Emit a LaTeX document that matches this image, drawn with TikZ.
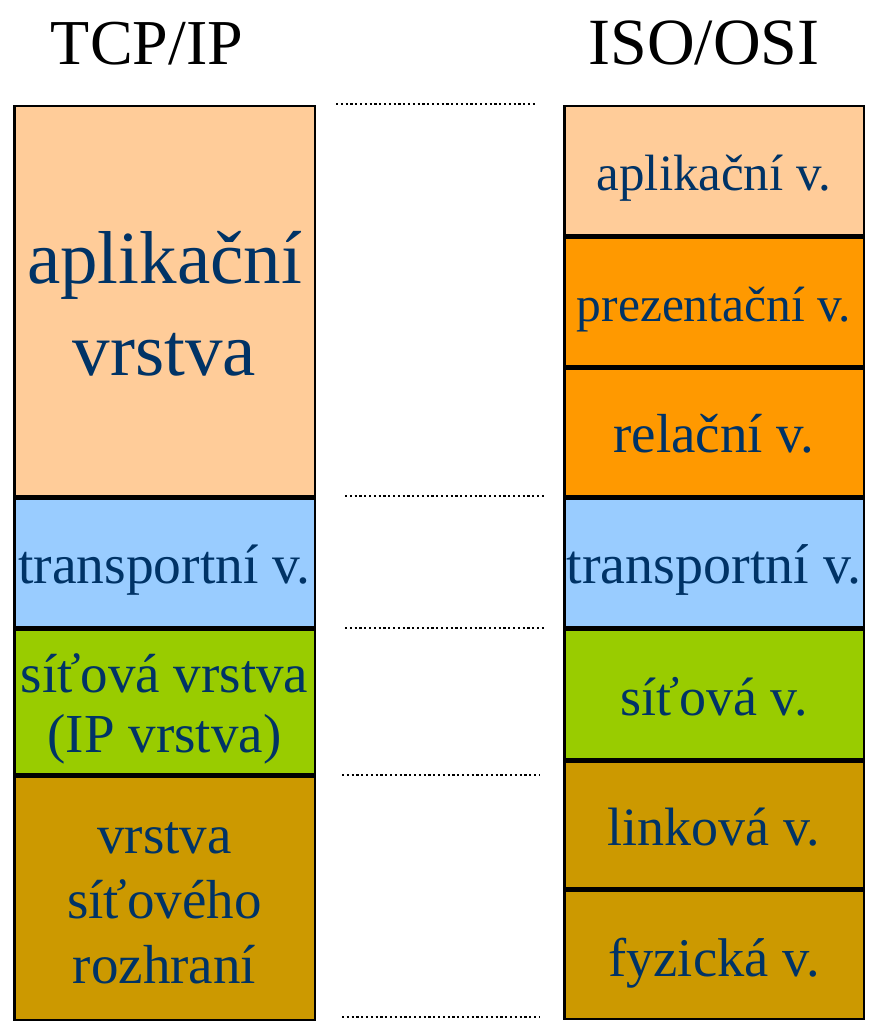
\documentclass[tikz,border=0pt]{standalone}
\usepackage{fontspec}
\setmainfont{Liberation Serif}
\definecolor{txtblue}{HTML}{003366}
\definecolor{peach}{HTML}{FFCC99}
\definecolor{orng}{HTML}{FF9900}
\definecolor{skyb}{HTML}{99CCFF}
\definecolor{lgreen}{HTML}{99CC00}
\definecolor{gold}{HTML}{CC9900}
\begin{document}
\begin{tikzpicture}[x=1pt,y=-1pt,
  layer/.style={draw=black, line width=2.5pt, inner sep=0pt},
  fs/.style 2 args={font=\fontsize{#1}{#2}\selectfont},
  lbl/.style={text=txtblue, anchor=base, align=center, inner sep=0pt, fs={53}{63}},
  ttl/.style={anchor=base, inner sep=0pt, fs={64}{70}},
  sepline/.style={line width=2.6pt, dash pattern=on 2.2pt off 2.6pt}]
\useasboundingbox (0,0) rectangle (892,1035);
% titles
\node[ttl] (t1) at (147,65) {TCP/IP};
\node[ttl, fs={66}{70}] (t2) at (704,65) {ISO/OSI};
% left column
\node[layer, fill=peach,  minimum width=300.5pt, minimum height=390pt]   (L1) at (164.5,301.25) {};
\node[layer, fill=skyb,   minimum width=300.5pt, minimum height=128.5pt] (L2) at (164.5,563) {};
\node[layer, fill=lgreen, minimum width=300.5pt, minimum height=144.5pt] (L3) at (164.5,702) {};
\node[layer, fill=gold,   minimum width=300.5pt, minimum height=243pt]   (L4) at (164.5,898.25) {};
% right column
\node[layer, fill=peach,  minimum width=299.5pt, minimum height=128.5pt] (R1) at (714,170.5) {};
\node[layer, fill=orng,   minimum width=299.5pt, minimum height=128.5pt] (R2) at (714,301.5) {};
\node[layer, fill=orng,   minimum width=299.5pt, minimum height=128pt]   (R3) at (714,432.25) {};
\node[layer, fill=skyb,   minimum width=299.5pt, minimum height=128.5pt] (R4) at (714,563) {};
\node[layer, fill=lgreen, minimum width=299.5pt, minimum height=129pt]   (R5) at (714,694.25) {};
\node[layer, fill=gold,   minimum width=299.5pt, minimum height=127pt]   (R6) at (714,824.75) {};
\node[layer, fill=gold,   minimum width=299.5pt, minimum height=128pt]   (R7) at (714,954.75) {};
% labels left (base = baseline of last line)
\node[lbl, fs={75}{92}] (l1) at ([yshift=-74pt]L1.center) {aplikační\\vrstva};
\node[lbl, fs={55.5}{63}] (l2) at ([yshift=-20pt]L2.center) {transportní v.};
\node[lbl, fs={55}{60}] (l3) at ([yshift=-50pt]L3.center) {síťová vrstva\\(IP vrstva)};
\node[lbl, fs={55}{65}] (l4) at ([yshift=-85pt]L4.center) {vrstva\\síťového\\rozhraní};
% labels right
\node[lbl, fs={51}{60}] (r1) at ([yshift=-20pt]R1.center) {aplikační v.};
\node[lbl, fs={49.5}{60}] (r2) at ([yshift=-20pt]R2.center) {prezentační v.};
\node[lbl, fs={55}{60}] (r3) at ([yshift=-20pt]R3.center) {relační v.};
\node[lbl, fs={56}{60}] (r4) at ([yshift=-20pt]R4.center) {transportní v.};
\node[lbl, fs={54}{60}] (r5) at ([yshift=-21pt]R5.center) {síťová v.};
\node[lbl, fs={54}{60}] (r6) at ([yshift=-21pt]R6.center) {linková v.};
\node[lbl, fs={54.5}{60}] (r7) at ([yshift=-22pt]R7.center) {fyzická v.};
% dotted separators
\coordinate (a1) at (336,104);  \coordinate (b1) at (535,104);
\coordinate (a2) at (345,496);  \coordinate (b2) at (545,496);
\coordinate (a3) at (345,628);  \coordinate (b3) at (545,628);
\coordinate (a4) at (342,775);  \coordinate (b4) at (540,775);
\coordinate (a5) at (342,1017); \coordinate (b5) at (540,1017);
\foreach \i in {1,...,5} \draw[sepline] (a\i) -- (b\i);
\end{tikzpicture}
\end{document}
